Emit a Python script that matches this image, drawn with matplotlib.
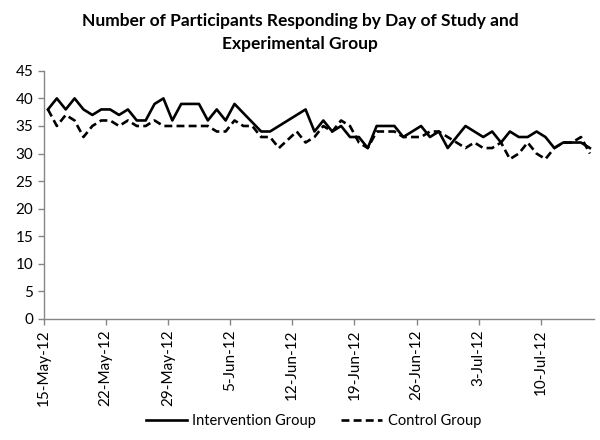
import numpy as np
import pandas as pd
import matplotlib
matplotlib.use('Agg')
import matplotlib.pyplot as plt
import matplotlib.dates as mdates

plt.rcParams['font.family'] = ['Lato', 'DejaVu Sans']

# one value per day, 15-May-12 .. 15-Jul-12 (None = no data that day)
days = pd.date_range('2012-05-15', '2012-07-15', freq='D')
intervention = [38, 40, 38, 40, 38, 37, 38, 38, 37, 38,
                36, 36, 39, 40, 36, 39, 39, 39, 36, 38,
                36, 39, None, None, 34, 34, None, None, None, 38,
                34, 36, 34, 35, 33, 33, 31, 35, 35, 35,
                33, 34, 35, 33, 34, 31, 33, 35, 34, 33,
                34, 32, 34, 33, 33, 34, 33, 31, 32, 32,
                32, 31]
control = [38, 35, 37, 36, 33, 35, 36, 36, 35, 36,
           35, 35, 36, 35, 35, 35, 35, 35, 35, 34,
           34, 36, 35, 35, 33, 33, 31, None, 34, 32,
           33, 35, 34, 36, 35, 32, 31, 34, 34, 34,
           33, 33, 33, 34, 34, 33, 32, 31, 32, 31,
           31, 32, 29, 30, 32, 30, 29, 31, 32, 32,
           33, 30]

title = 'Number of Participants Responding by Day of Study and\nExperimental Group'

fig = plt.figure(figsize=(6, 4.4), dpi=100)
ax = fig.add_axes([0.0725, 0.275, 0.918, 0.564])

# Excel date axis: points sit in the middle of each day slot
x = days + pd.Timedelta(hours=12)
s_int = pd.Series(intervention, index=x, dtype=float).dropna()
s_con = pd.Series(control, index=x, dtype=float).dropna()

ax.plot(s_int.index, s_int.values, color='black', lw=1.9, label='Intervention Group')
ax.plot(s_con.index, s_con.values, color='black', lw=1.9, linestyle=(0, (3, 1.6)),
        label='Control Group')

ax.set_ylim(0, 45)
ax.set_yticks(np.arange(0, 46, 5))
ax.set_xlim(days[0], days[-1] + pd.Timedelta(days=1))
ax.set_xticks(days[::7])
ax.xaxis.set_major_formatter(mdates.DateFormatter('%-d-%b-%y'))
plt.setp(ax.get_xticklabels(), rotation=90)

for side in ['top', 'right']:
    ax.spines[side].set_visible(False)
for side in ['left', 'bottom']:
    ax.spines[side].set_color('#868686')
    ax.spines[side].set_linewidth(1)
ax.tick_params(axis='both', colors='#868686', labelcolor='black', labelsize=11,
               length=4, width=1)

fig.text(0.5, 0.97, title, ha='center', va='top', fontsize=12.5,
         fontweight='bold', linespacing=1.5)

ax.legend(loc='center', bbox_to_anchor=(0.49, -0.41), ncol=2, frameon=False,
          fontsize=10.5, handlelength=2.8, handletextpad=0.4, columnspacing=1.7)

fig.savefig('out.png', dpi=100)
